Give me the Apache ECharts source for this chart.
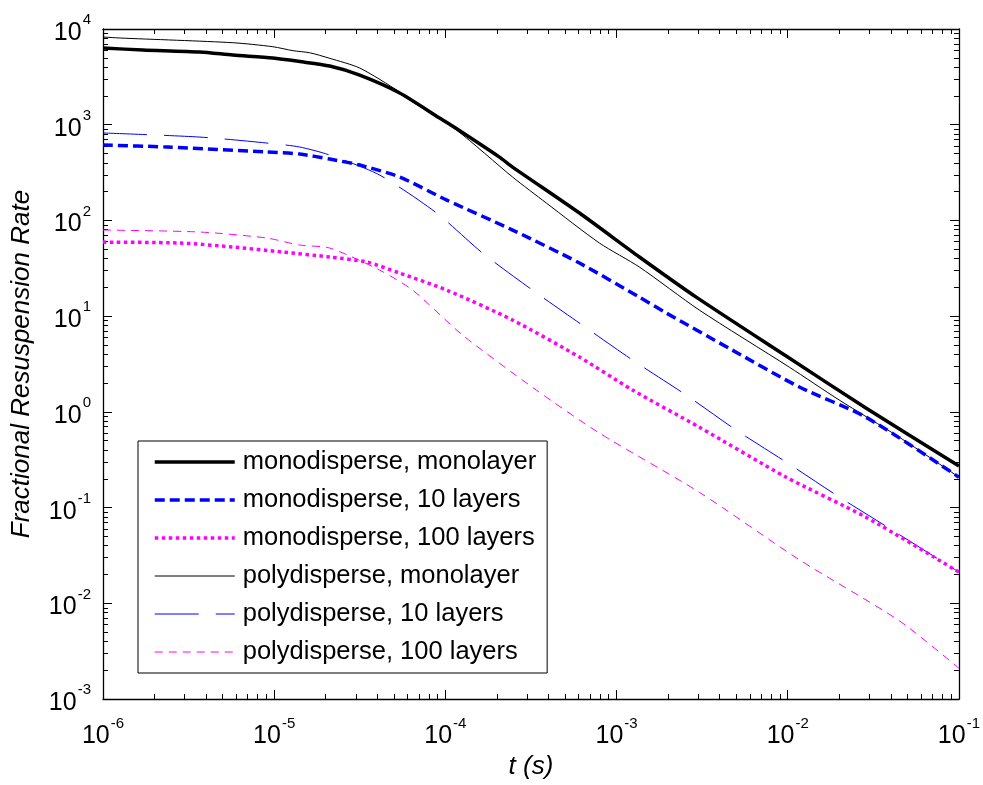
<!DOCTYPE html>
<html><head><meta charset="utf-8">
<script src="https://cdn.jsdelivr.net/npm/echarts@6/dist/echarts.min.js"></script>
<style>html,body{margin:0;padding:0;background:#fff}#c{width:983px;height:785px}</style>
</head><body><div id="c"></div>
<script>
// ---- data (t in seconds, rate) ----
const seriesNames = [
  'monodisperse, monolayer',
  'monodisperse, 10 layers',
  'monodisperse, 100 layers',
  'polydisperse, monolayer',
  'polydisperse, 10 layers',
  'polydisperse, 100 layers'
];
const monoMonolayer = [[1e-6,6320],[1.71e-6,6040],[3.68e-6,5750],[5.73e-6,5345],[9.82e-6,4975],[1.41e-5,4570],[2.11e-5,4100],[3.16e-5,3300],[5.41e-5,2145],[9.25e-5,1175],[1.10e-4,969],[2.07e-4,459],[2.47e-4,361],[6.07e-4,119.5],[1.36e-3,41.5],[2.92e-3,15.8],[9.79e-3,3.83],[2.86e-2,1.10],[1e-1,0.272]];
const mono10Layers = [[1e-6,614],[2.36e-6,585],[9.06e-6,519],[1.41e-5,494],[2.11e-5,438],[3.16e-5,379],[5.41e-5,284],[1.02e-4,163],[2.47e-4,79.4],[6.07e-4,35.9],[1.36e-3,15.8],[1.95e-3,10.8],[4.74e-3,4.43],[1.17e-2,1.82],[2.86e-2,0.882],[1e-1,0.208]];
const mono100Layers = [[1e-6,59.4],[2.81e-6,58.1],[5.73e-6,52.8],[1.12e-5,46.8],[2.11e-5,41.5],[3.47e-5,36.8],[5.41e-5,28.2],[1.02e-4,18.7],[2.47e-4,9.10],[6.07e-4,3.74],[1.24e-3,1.69],[3.04e-3,0.694],[9.79e-3,0.208],[2.86e-2,0.0796],[1e-1,0.0212]];
const polyMonolayer = [[1e-6,8245],[1.26e-6,8050],[5.73e-6,7190],[9.82e-6,6530],[1.29e-5,5935],[1.61e-5,5650],[2.11e-5,4940],[3.16e-5,3910],[5.41e-5,2200],[6.18e-5,1810],[1.16e-4,880],[2.47e-4,284],[3.89e-4,152],[7.94e-4,58.1],[1.36e-3,32.6],[3.04e-3,11.6],[1.02e-2,2.94],[2e-2,1.33],[4.47e-2,0.546],[1e-1,0.208]];
const poly10Layers = [[1e-6,820],[3.68e-6,743],[9.06e-6,644],[1.41e-5,585],[2.11e-5,482],[4.13e-5,298],[8.89e-5,119.5],[1.65e-4,45.6],[3.23e-4,18.7],[6.31e-4,8.07],[1.24e-3,3.48],[2.55e-3,1.50],[5.00e-3,0.645],[9.79e-3,0.299],[2e-2,0.129],[3.91e-2,0.0611],[1e-1,0.0212]];
const poly100Layers = [[1e-6,79.4],[3.68e-6,75.7],[9.06e-6,65.5],[1.41e-5,55.3],[2.11e-5,51.5],[4.13e-5,30.3],[6.44e-5,18.7],[1.26e-4,6.35],[3.40e-4,1.69],[7.94e-4,0.601],[3.04e-3,0.145],[1.17e-2,0.0285],[4.47e-2,0.0066],[1e-1,0.0021]];
const xTickExponents = [-6,-5,-4,-3,-2,-1];
const yTickExponents = [-3,-2,-1,0,1,2,3,4];

// ---- tick positions ----
function majors(exps){ return exps.map(e => Math.pow(10, e)); }
function minors(exps){
  const out = [];
  for (let i = 0; i < exps.length - 1; i++)
    for (let m = 2; m <= 9; m++) out.push(m * Math.pow(10, exps[i]));
  return out;
}
const FONT = 'Liberation Sans';
const labelFmt = v => '{b|10}{s|' + Math.round(Math.log10(v)) + '}';
const rich = {
  b: {fontSize: 25, fontFamily: FONT, color: '#000', padding: [8, 0, 0, 0], verticalAlign: 'bottom'},
  s: {fontSize: 15, fontFamily: FONT, color: '#000', verticalAlign: 'top', padding: [0, 0, 0, 1]}
};
const axLine = {show: true, lineStyle: {color: '#000', width: 1.3}};
const tickStyle = {color: '#000', width: 1};
const xMin = Math.pow(10, xTickExponents[0]), xMax = Math.pow(10, xTickExponents[xTickExponents.length-1]);
const yMin = Math.pow(10, yTickExponents[0]), yMax = Math.pow(10, yTickExponents[yTickExponents.length-1]);

function mkX(pos, major, withLabel){
  return {
    type: 'log', position: pos, min: xMin, max: xMax,
    axisLine: major ? axLine : {show: false},
    axisTick: {show: true, inside: true, length: major ? 9 : 5, lineStyle: tickStyle,
      customValues: major ? majors(xTickExponents) : minors(xTickExponents)},
    axisLabel: withLabel ? {show: true, customValues: majors(xTickExponents), formatter: labelFmt, rich: rich, margin: 17} : {show: false},
    splitLine: {show: false}, minorTick: {show: false},
    name: withLabel ? 't (s)' : '', nameLocation: 'middle', nameGap: 54,
    nameTextStyle: {fontSize: 26, fontStyle: 'italic', fontFamily: FONT, color: '#000'}
  };
}
function mkY(pos, major, withLabel){
  return {
    type: 'log', position: pos, min: yMin, max: yMax,
    axisLine: major ? axLine : {show: false},
    axisTick: {show: true, inside: true, length: major ? 9 : 5, lineStyle: tickStyle,
      customValues: major ? majors(yTickExponents) : minors(yTickExponents)},
    axisLabel: withLabel ? {show: true, customValues: majors(yTickExponents), formatter: labelFmt, rich: rich, margin: 12} : {show: false},
    splitLine: {show: false}, minorTick: {show: false},
    name: withLabel ? 'Fractional Resuspension Rate' : '', nameLocation: 'middle', nameGap: 68,
    nameTextStyle: {fontSize: 26, fontStyle: 'italic', fontFamily: FONT, color: '#000'}
  };
}

const styles = [
  {color: '#000000', width: 3.5, type: 'solid'},
  {color: '#0000ff', width: 3.5, type: [10, 5]},
  {color: '#ff00ff', width: 3.5, type: [3.5, 3.5]},
  {color: '#000000', width: 1, type: 'solid'},
  {color: '#0000ff', width: 1, type: [44, 17]},
  {color: '#ff00ff', width: 1, type: [8, 6]}
];
const datasets = [monoMonolayer, mono10Layers, mono100Layers, polyMonolayer, poly10Layers, poly100Layers];

const chart = echarts.init(document.getElementById('c'), null, {renderer: 'canvas'});
chart.setOption({
  animation: false,
  backgroundColor: '#fff',
  grid: {left: 103, right: 23, top: 29, bottom: 83, containLabel: false},
  xAxis: [mkX('bottom', true, true), mkX('bottom', false, false), mkX('top', true, false), mkX('top', false, false)],
  yAxis: [mkY('left', true, true), mkY('left', false, false), mkY('right', true, false), mkY('right', false, false)],
  legend: {
    data: seriesNames, orient: 'vertical', left: 138, top: 441,
    itemWidth: 80, itemHeight: 14, itemGap: 12,
    padding: [8, 11, 8, 15],
    backgroundColor: '#fff', borderColor: '#000', borderWidth: 1,
    itemStyle: {opacity: 0},
    lineStyle: {width: 'inherit', type: 'inherit'},
    textStyle: {fontSize: 25.5, fontFamily: FONT, color: '#000', padding: [0, 0, 0, 3]}
  },
  series: datasets.map((d, i) => ({
    name: seriesNames[i], type: 'line', data: d, xAxisIndex: 0, yAxisIndex: 0,
    showSymbol: false, symbol: 'none', smooth: 0.25,
    itemStyle: {color: styles[i].color},
    lineStyle: Object.assign({cap: 'butt', join: 'round'}, styles[i]), z: 2 + (5 - i)
  }))
});
</script></body></html>
